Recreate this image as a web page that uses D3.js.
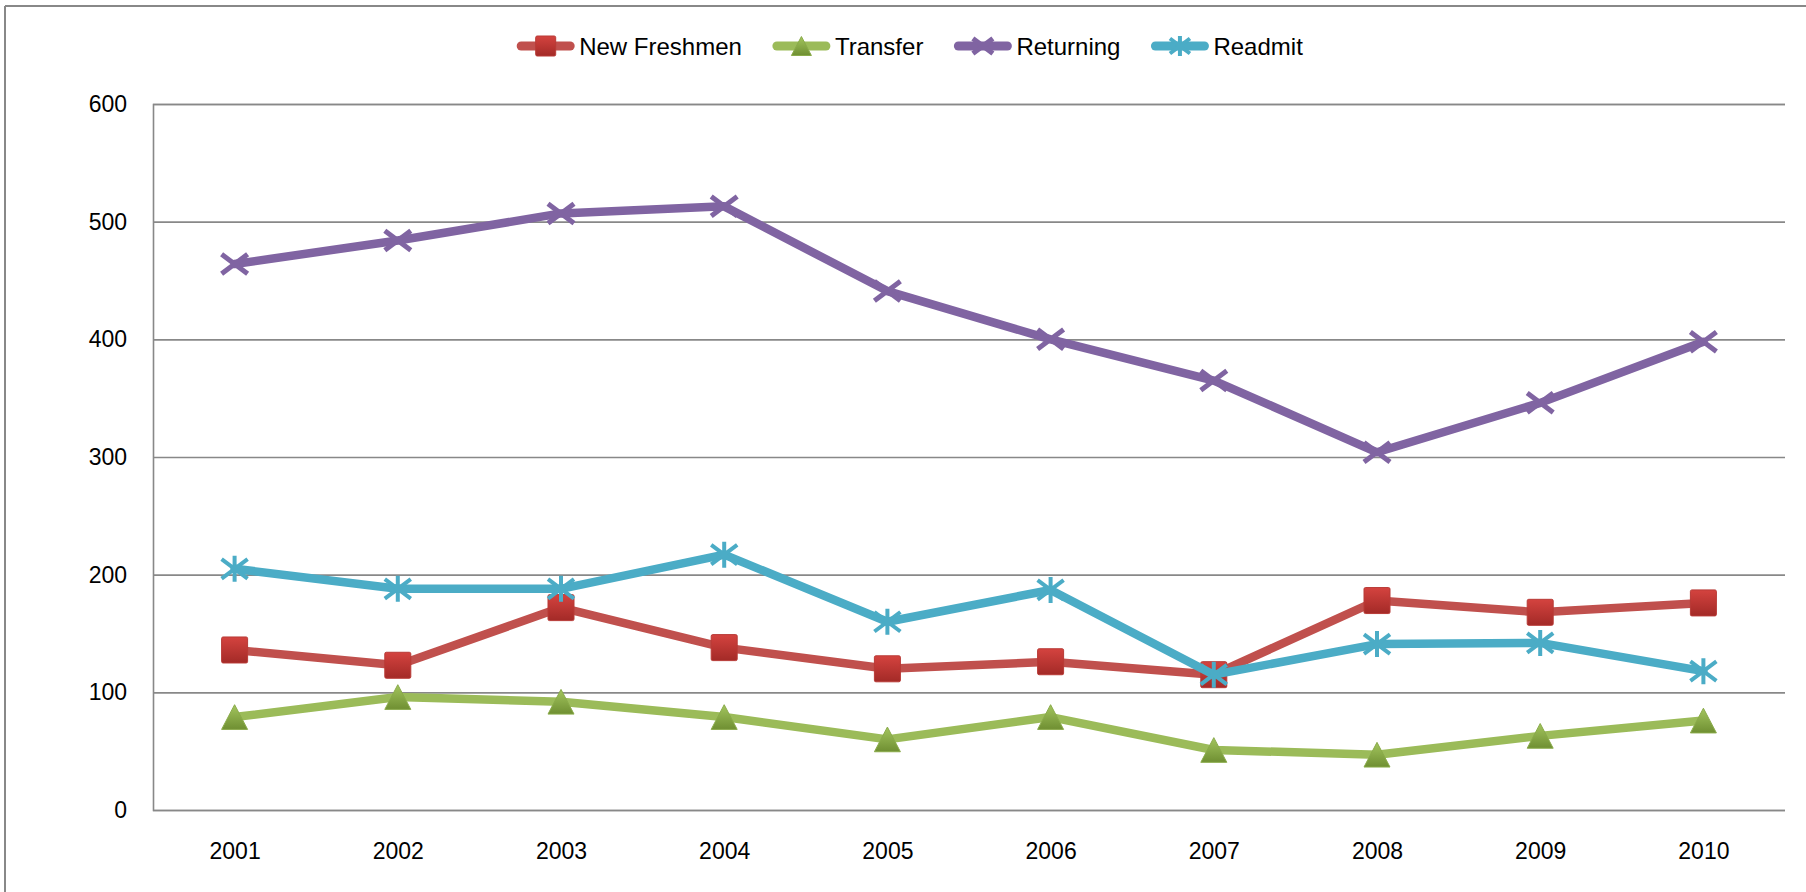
<!DOCTYPE html>
<html>
<head>
<meta charset="utf-8">
<script src="https://cdn.jsdelivr.net/npm/d3@7"></script>
<style>
  html, body { margin: 0; padding: 0; background: #fff; }
  svg { display: block; font-family: "Liberation Sans", Arial, sans-serif; }
</style>
</head>
<body>
<svg id="chart" width="1806" height="892"></svg>
<script>
const years = ['2001', '2002', '2003', '2004', '2005', '2006', '2007', '2008', '2009', '2010'];
const yTicks = [0, 100, 200, 300, 400, 500, 600];

const newFreshmen = [136, 123, 172, 138, 120, 126, 115, 178, 168, 176];
const transfer = [79, 96, 92, 79, 60, 79, 51, 47, 63, 76];
const returning = [464, 484, 507, 513, 441, 400, 365, 304, 346, 398];
const readmit = [205, 188, 188, 217, 160, 187, 115, 141, 142, 118];

const seriesNames = ['New Freshmen', 'Transfer', 'Returning', 'Readmit'];
const seriesColors = ['#C0504D', '#9BBB59', '#8064A2', '#4BACC6'];
const seriesMarkers = ['square', 'triangle', 'cross', 'star'];

const series = [newFreshmen, transfer, returning, readmit].map((values, i) => ({
  name: seriesNames[i],
  color: seriesColors[i],
  marker: seriesMarkers[i],
  values: values.map((v, j) => ({ year: years[j], value: v }))
}));

const svg = d3.select('#chart');
const margin = { top: 104, right: 21, bottom: 82, left: 153 };
const W = 1806, H = 892;
const gridColor = '#888888';

// gradients for the filled markers
const defs = svg.append('defs');
const grads = [
  { id: 'gradRed', top: '#d4433f', bottom: '#a32a27' },
  { id: 'gradGreen', top: '#a3c55e', bottom: '#6f8f32' }
];
grads.forEach(g => {
  const lg = defs.append('linearGradient').attr('id', g.id)
    .attr('x1', 0).attr('y1', 0).attr('x2', 0).attr('y2', 1);
  lg.append('stop').attr('offset', '0%').attr('stop-color', g.top);
  lg.append('stop').attr('offset', '100%').attr('stop-color', g.bottom);
});

// outer frame (top and left edges only visible)
svg.append('line').attr('x1', 5).attr('x2', W).attr('y1', 6).attr('y2', 6)
  .attr('stroke', gridColor).attr('stroke-width', 2);
svg.append('line').attr('x1', 5).attr('x2', 5).attr('y1', 6).attr('y2', H)
  .attr('stroke', gridColor).attr('stroke-width', 2);

const x = d3.scalePoint()
  .domain(years)
  .range([margin.left, W - margin.right])
  .padding(0.5);

const y = d3.scaleLinear()
  .domain([0, 600])
  .range([H - margin.bottom, margin.top]);

// Y axis + gridlines
const yAxis = svg.append('g')
  .attr('transform', `translate(${margin.left},0)`)
  .call(d3.axisLeft(y).tickValues(yTicks).tickSize(-(W - margin.right - margin.left)).tickPadding(26));
yAxis.select('.domain').attr('stroke', gridColor).attr('stroke-width', 1.6);
yAxis.selectAll('.tick line').attr('stroke', gridColor).attr('stroke-width', 1.6);
yAxis.selectAll('.tick text')
  .attr('fill', '#000')
  .style('font-size', '23px')
  .style('font-family', '"Liberation Sans", Arial, sans-serif');

// X axis labels
const xAxis = svg.append('g')
  .attr('transform', `translate(0,${H - margin.bottom})`)
  .call(d3.axisBottom(x).tickSize(0).tickPadding(33));
xAxis.select('.domain').remove();
xAxis.selectAll('.tick text')
  .attr('fill', '#000')
  .style('font-size', '23px')
  .style('font-family', '"Liberation Sans", Arial, sans-serif');

// marker drawing
function drawMarker(sel, type, color, s) {
  if (type === 'square') {
    sel.append('rect').attr('x', -s / 2).attr('y', -s / 2).attr('width', s).attr('height', s)
      .attr('rx', 1.5).attr('fill', 'url(#gradRed)').attr('stroke', '#b83a36').attr('stroke-width', 1);
  } else if (type === 'triangle') {
    const h = s * 0.95;
    sel.append('path')
      .attr('d', `M0,${-h / 2} L${s / 2},${h / 2} L${-s / 2},${h / 2} Z`)
      .attr('fill', 'url(#gradGreen)').attr('stroke', '#8aab4a').attr('stroke-width', 1)
      .attr('stroke-linejoin', 'round');
  } else if (type === 'cross') {
    const a = s / 2;
    sel.append('path')
      .attr('d', `M${-a},${-a * 0.75} L${a},${a * 0.75} M${-a},${a * 0.75} L${a},${-a * 0.75}`)
      .attr('stroke', color).attr('stroke-width', 5).attr('stroke-linecap', 'butt').attr('fill', 'none');
  } else if (type === 'star') {
    const a = s / 2;
    sel.append('path')
      .attr('d', `M${-a},${-a * 0.75} L${a},${a * 0.75} M${-a},${a * 0.75} L${a},${-a * 0.75} M0,${-a} L0,${a}`)
      .attr('stroke', color).attr('stroke-width', 4).attr('fill', 'none');
  }
}

const line = d3.line()
  .x(d => x(d.year))
  .y(d => y(d.value));

const plot = svg.append('g');
series.forEach(s => {
  const g = plot.append('g');
  g.append('path')
    .datum(s.values)
    .attr('fill', 'none')
    .attr('stroke', s.color)
    .attr('stroke-width', 8.5)
    .attr('stroke-linejoin', 'round')
    .attr('stroke-linecap', 'round')
    .attr('d', line);
  g.selectAll('.marker')
    .data(s.values)
    .join('g')
    .attr('class', 'marker')
    .attr('transform', d => `translate(${x(d.year)},${y(d.value)})`)
    .each(function () { drawMarker(d3.select(this), s.marker, s.color, 26); });
});

// Legend
const legend = svg.append('g');
const legendY = 46;
const lineLen = 57;
const itemGap = 31;
let lx = 0;
series.forEach(s => {
  const item = legend.append('g').attr('transform', `translate(${lx},${legendY})`);
  item.append('line')
    .attr('x1', 4).attr('x2', lineLen - 4)
    .attr('stroke', s.color).attr('stroke-width', 9).attr('stroke-linecap', 'round');
  const m = item.append('g').attr('transform', `translate(${lineLen / 2},0)`);
  drawMarker(m, s.marker, s.color, 20);
  const t = item.append('text')
    .attr('x', lineLen + 5)
    .attr('dy', '0.36em')
    .attr('fill', '#000')
    .style('font-size', '24px')
    .text(s.name);
  lx += lineLen + 5 + t.node().getComputedTextLength() + itemGap;
});
const legendW = lx - itemGap;
legend.attr('transform', `translate(${910 - legendW / 2},0)`);
</script>
</body>
</html>
